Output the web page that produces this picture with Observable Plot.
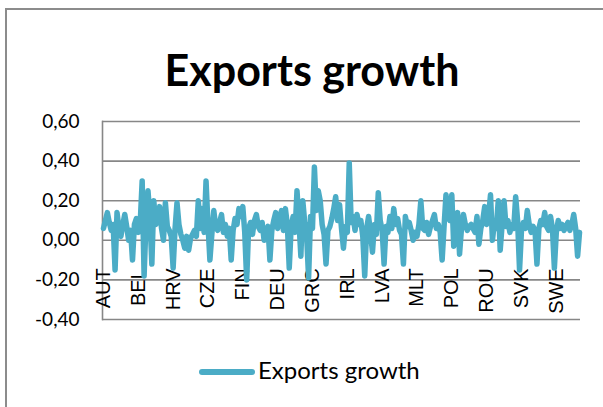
<!DOCTYPE html>
<html><head><meta charset="utf-8">
<script src="https://cdn.jsdelivr.net/npm/d3@7"></script>
<script src="https://cdn.jsdelivr.net/npm/@observablehq/plot@0.6"></script>
<style>
body{margin:0;background:#fff;}
#wrap{position:relative;width:603px;height:407px;overflow:hidden;background:#fff;}
#border{position:absolute;left:5px;top:8px;width:700px;height:500px;border-left:2px solid #8c8c8c;border-top:2px solid #8c8c8c;pointer-events:none;}
#title{height:100px;position:relative;font-family:Lato;font-weight:bold;font-size:43px;color:#000;}
#title span{position:absolute;left:0;width:624px;text-align:center;top:48px;line-height:43px;white-space:nowrap;}
#chart svg{display:block;}
#legend{position:relative;height:68px;font-family:Lato;font-size:24px;color:#000;}
#swatch{position:absolute;left:199px;top:30px;width:56px;height:6px;border-radius:3px;background:#4BACC6;}
#ltext{position:absolute;left:258px;top:19px;line-height:24px;white-space:nowrap;}
</style></head>
<body>
<div id="wrap">
  <div id="border"></div>
  <div id="title"><span>Exports growth</span></div>
  <div id="chart"></div>
  <div id="legend"><div id="swatch"></div><div id="ltext">Exports growth</div></div>
</div>
<script>
const seriesName = "Exports growth";
const values = [
0.06, 0.10, 0.14, 0.09, 0.05, 0.08, -0.15, 0.14, 0.06, 0.02,
0.08, 0.13, 0.07, 0.00, 0.05, -0.10, 0.08, 0.11, 0.04, 0.09,
0.30, -0.18, 0.10, 0.25, 0.12, -0.12, 0.20, 0.08, 0.10, 0.17,
0.06, 0.00, 0.19, 0.07, 0.05, 0.02, -0.14, 0.06, 0.19, 0.08,
0.03, 0.00, -0.04, 0.02, -0.05, 0.01, 0.03, 0.05, 0.02, 0.20,
0.06, 0.16, 0.04, 0.30, 0.08, -0.10, 0.03, 0.15, 0.07, 0.05,
0.09, 0.13, 0.04, 0.08, 0.02, 0.06, -0.10, 0.05, 0.11, 0.08,
0.16, 0.12, 0.17, 0.04, -0.20, 0.06, 0.09, 0.03, 0.10, 0.13,
0.07, 0.05, 0.09, 0.00, 0.04, 0.07, -0.10, 0.05, 0.10, 0.14,
0.06, 0.11, 0.15, 0.05, 0.16, 0.08, -0.14, 0.07, 0.12, 0.04,
0.25, 0.10, -0.08, 0.20, 0.09, 0.02, -0.19, 0.12, 0.06, 0.37,
0.15, 0.25, 0.20, 0.08, 0.03, -0.12, 0.05, 0.07, 0.11, 0.16,
0.22, 0.10, 0.18, 0.06, -0.04, 0.07, 0.04, 0.39, 0.09, 0.12,
0.05, 0.13, 0.08, 0.10, 0.02, -0.18, 0.06, 0.12, 0.04, -0.06,
0.08, 0.03, 0.24, 0.10, 0.05, -0.12, 0.07, 0.04, 0.12, 0.06,
0.16, 0.08, 0.11, 0.05, 0.03, -0.12, 0.12, 0.07, 0.09, 0.05,
0.00, 0.04, 0.02, 0.08, 0.20, 0.06, 0.05, 0.09, 0.03, 0.07,
0.10, 0.13, 0.06, 0.08, 0.04, -0.10, 0.07, 0.23, 0.12, 0.10,
0.23, -0.03, 0.09, 0.14, -0.07, 0.06, 0.13, 0.08, 0.05, 0.07,
0.08, 0.06, 0.04, 0.12, -0.02, 0.06, 0.10, 0.17, 0.08, 0.12,
0.23, 0.00, 0.09, 0.06, 0.20, -0.05, 0.08, 0.20, 0.07, 0.10,
0.04, 0.08, 0.06, 0.22, 0.10, -0.15, 0.05, 0.09, 0.06, 0.15,
0.08, 0.04, 0.07, 0.05, -0.12, 0.06, 0.10, 0.08, 0.14, 0.07,
0.05, 0.12, 0.06, -0.14, 0.04, 0.10, 0.06, 0.08, 0.05, 0.07,
0.09, 0.05, 0.08, 0.13, 0.06, -0.08, 0.04
];
const catLabels = ["AUT","BEL","HRV","CZE","FIN","DEU","GRC","IRL","LVA","MLT","POL","ROU","SVK","SWE"];
const catIndex = [0,18,36,54,72,90,108,126,144,162,180,198,216,234];
const yTicks = [-0.4,-0.2,0,0.2,0.4,0.6];

const data = values.map((v, i) => ({i, v}));
const lineColor = "#4BACC6";
const gridColor = "#878787";

const chart = Plot.plot({
  width: 603, height: 239,
  marginLeft: 102, marginRight: 23, marginTop: 21, marginBottom: 20,
  style: {fontFamily: "Lato", fontSize: "19px", color: "#000", background: "transparent", overflow: "visible"},
  x: {domain: [-0.5, values.length - 0.5], axis: null},
  y: {domain: [-0.4, 0.6], axis: null},
  marks: [
    Plot.ruleY(yTicks, {stroke: gridColor, strokeWidth: 1.6}),
    Plot.frame({anchor: "left", stroke: gridColor, strokeWidth: 1.6}),
    Plot.axisY(yTicks, {tickSize: 0, tickPadding: 23, label: null, tickFormat: d => d.toFixed(2).replace(".", ","), fontSize: 19, fill: "#000"}),
    Plot.text(catLabels, {x: catIndex, y: () => 0, text: d => d, rotate: -90, textAnchor: "end", lineAnchor: "middle", dy: 28, fontFamily: "Liberation Sans", fontSize: 20, fill: "#000"}),
    Plot.line(data, {x: "i", y: "v", stroke: lineColor, strokeWidth: 5.5, strokeLinejoin: "round", strokeLinecap: "round"})
  ]
});
document.getElementById("chart").appendChild(chart);
</script>
</body></html>
